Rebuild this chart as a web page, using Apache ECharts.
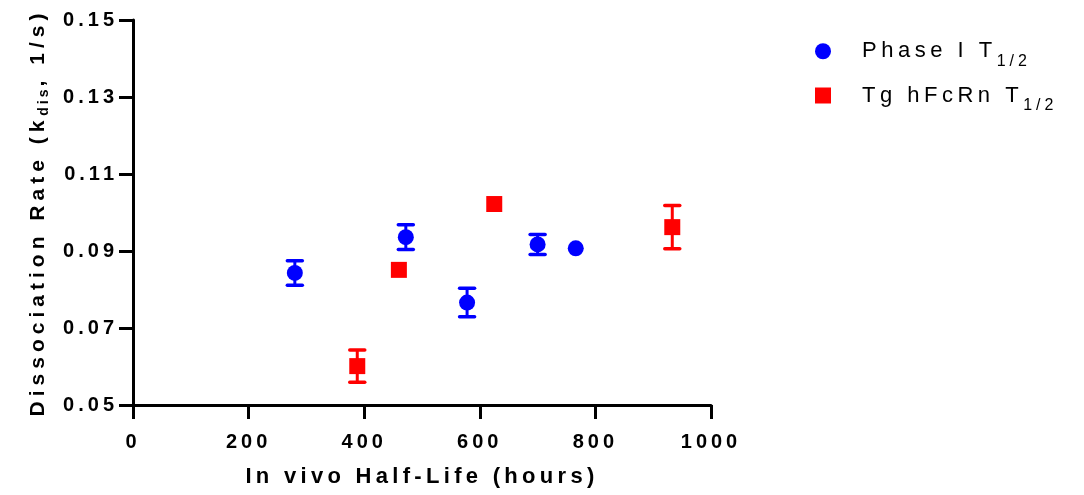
<!DOCTYPE html>
<html>
<head>
<meta charset="utf-8">
<script src="https://cdn.jsdelivr.net/npm/echarts@6/dist/echarts.min.js"></script>
<style>
  html, body { margin: 0; padding: 0; background: #fff; }
  #chart { width: 1084px; height: 495px; }
</style>
</head>
<body>
<div id="chart"></div>
<script>
// Axis ticks
const xTicks = [0, 200, 400, 600, 800, 1000];
const yTicks = [0.05, 0.07, 0.09, 0.11, 0.13, 0.15];

// Phase I T1/2: half-life (hours), k_dis (1/s), error (+/-)
const phaseHalfLife = [280, 472, 578, 700, 766];
const phaseKdis = [0.0843, 0.0936, 0.0766, 0.0917, 0.0907];
const phaseErr = [0.0032, 0.0032, 0.0037, 0.0026, 0];

// Tg hFcRn T1/2: half-life (hours), k_dis (1/s), error (+/-)
const tgHalfLife = [388, 460, 625, 933];
const tgKdis = [0.0601, 0.0851, 0.1022, 0.0962];
const tgErr = [0.0042, 0, 0, 0.0056];

const FONT = '"Liberation Sans", Arial, sans-serif';
const BLUE = '#0000ff';
const RED = '#ff0000';

// Letter tracking per font (weight + size), applied to canvas text drawing and measuring
const TRACKING = { b20: 4, b21: 5, b22: 4.3, b14: 3, n22: 4.5, n16: 4 };
(function () {
  const P = CanvasRenderingContext2D.prototype;
  if (!('letterSpacing' in P)) return;
  function spacingFor(font) {
    const m = /(\d+(?:\.\d+)?)px/.exec(font || '');
    if (!m) return 0;
    const bold = /bold|[6-9]00/.test(font);
    return TRACKING[(bold ? 'b' : 'n') + Math.round(+m[1])] || 0;
  }
  ['fillText', 'strokeText', 'measureText'].forEach(function (fn) {
    const orig = P[fn];
    P[fn] = function () {
      this.letterSpacing = spacingFor(this.font) + 'px';
      return orig.apply(this, arguments);
    };
  });
})();

function errorBars(xs, ys, es, color) {
  return {
    type: 'custom',
    silent: true,
    z: 1,
    data: xs.map((x, i) => [x, ys[i], es[i]]),
    encode: { x: 0, y: 1 },
    renderItem: function (params, api) {
      const x = api.value(0), y = api.value(1), e = api.value(2);
      if (!e) return null;
      const top = api.coord([x, y + e]);
      const bot = api.coord([x, y - e]);
      const hw = 7.5;
      const st = { stroke: color, lineWidth: 3.5, lineCap: 'round' };
      return {
        type: 'group',
        children: [
          { type: 'line', shape: { x1: top[0], y1: top[1], x2: bot[0], y2: bot[1] }, style: { stroke: color, lineWidth: 3 } },
          { type: 'line', shape: { x1: top[0] - hw, y1: top[1], x2: top[0] + hw, y2: top[1] }, style: st },
          { type: 'line', shape: { x1: bot[0] - hw, y1: bot[1], x2: bot[0] + hw, y2: bot[1] }, style: st }
        ]
      };
    }
  };
}

const chart = echarts.init(document.getElementById('chart'), null, { renderer: 'canvas' });

const axisLine = { show: true, lineStyle: { color: '#000', width: 3 } };
const axisTick = { show: true, inside: false, length: 14, lineStyle: { color: '#000', width: 3 } };

chart.setOption({
  animation: false,
  backgroundColor: '#fff',
  grid: { left: 133, right: 373, top: 20, bottom: 90, outerBoundsMode: 'none' },
  legend: {
    orient: 'vertical',
    left: 810,
    top: 33,
    itemWidth: 16,
    itemHeight: 16,
    itemGap: 11,
    itemStyle: { borderWidth: 0 },
    data: [
      { name: 'Phase I', icon: 'circle' },
      { name: 'Tg hFcRn', icon: 'rect' }
    ],
    formatter: function (name) { return '{m|' + name + ' T}{s|1/2}'; },
    textStyle: {
      fontFamily: FONT,
      color: '#000',
      rich: {
        m: { fontFamily: FONT, fontSize: 22, color: '#000', lineHeight: 40, verticalAlign: 'middle', padding: [0, 0, 0, 26] },
        s: { fontFamily: FONT, fontSize: 16, color: '#000', lineHeight: 20, verticalAlign: 'bottom' }
      }
    }
  },
  xAxis: {
    type: 'value',
    min: xTicks[0],
    max: xTicks[xTicks.length - 1],
    interval: 200,
    name: 'In vivo Half-Life (hours)',
    nameLocation: 'middle',
    nameGap: 59,
    nameTextStyle: { fontFamily: FONT, fontSize: 22, fontWeight: 'bold', color: '#000' },
    axisLine: axisLine,
    axisTick: axisTick,
    splitLine: { show: false },
    axisLabel: {
      fontFamily: FONT, fontSize: 20, fontWeight: 'bold', color: '#000', margin: 25,
      formatter: function (v) { return String(v); }
    }
  },
  yAxis: {
    type: 'value',
    min: yTicks[0],
    max: yTicks[yTicks.length - 1],
    name: '{m|Dissociation Rate (k}{s|dis}{m|, 1/s)}',
    nameLocation: 'middle',
    nameGap: 80,
    nameTextStyle: {
      fontFamily: FONT, fontSize: 21, fontWeight: 'bold', color: '#000',
      rich: {
        m: { fontFamily: FONT, fontSize: 21, fontWeight: 'bold', color: '#000', lineHeight: 28, verticalAlign: 'middle' },
        s: { fontFamily: FONT, fontSize: 14, fontWeight: 'bold', color: '#000', lineHeight: 16, verticalAlign: 'bottom' }
      }
    },
    axisLine: axisLine,
    axisTick: Object.assign({ customValues: yTicks }, axisTick),
    splitLine: { show: false },
    axisLabel: {
      customValues: yTicks,
      fontFamily: FONT, fontSize: 20, fontWeight: 'bold', color: '#000', margin: 15,
      formatter: function (v) { return v.toFixed(2); }
    }
  },
  series: [
    errorBars(phaseHalfLife, phaseKdis, phaseErr, BLUE),
    errorBars(tgHalfLife, tgKdis, tgErr, RED),
    {
      name: 'Phase I',
      type: 'scatter',
      symbol: 'circle',
      symbolSize: 16,
      z: 3,
      itemStyle: { color: BLUE, opacity: 1 },
      data: phaseHalfLife.map((x, i) => [x, phaseKdis[i]])
    },
    {
      name: 'Tg hFcRn',
      type: 'scatter',
      symbol: 'rect',
      symbolSize: 16,
      z: 3,
      itemStyle: { color: RED, opacity: 1 },
      data: tgHalfLife.map((x, i) => [x, tgKdis[i]])
    }
  ]
});
</script>
</body>
</html>
